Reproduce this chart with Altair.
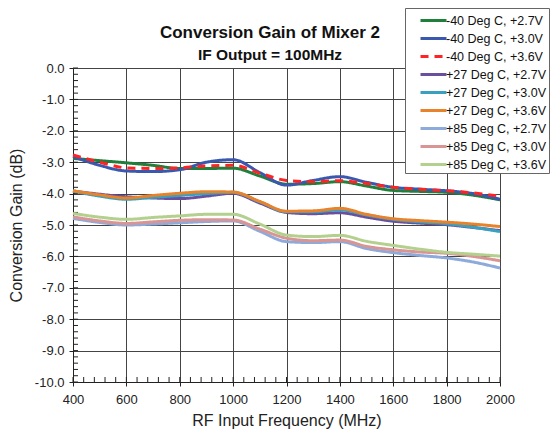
import altair as alt
import pandas as pd

freq = [400, 500, 600, 700, 800, 900, 1000, 1100, 1200, 1300, 1400, 1500, 1600, 1700, 1800, 1900, 2000]

series_names = [
    "-40 Deg C, +2.7V", "-40 Deg C, +3.0V", "-40 Deg C, +3.6V",
    "+27 Deg C, +2.7V", "+27 Deg C, +3.0V", "+27 Deg C, +3.6V",
    "+85 Deg C, +2.7V", "+85 Deg C, +3.0V", "+85 Deg C, +3.6V",
]

m40_27 = [-2.88, -2.95, -3.02, -3.10, -3.20, -3.20, -3.19, -3.44, -3.70, -3.68, -3.62, -3.76, -3.90, -3.93, -3.96, -4.05, -4.20]
m40_30 = [-2.82, -3.10, -3.28, -3.30, -3.24, -3.00, -2.92, -3.33, -3.73, -3.58, -3.46, -3.64, -3.80, -3.86, -3.91, -4.00, -4.18]
m40_36 = [-2.77, -3.00, -3.18, -3.20, -3.18, -3.12, -3.10, -3.35, -3.58, -3.62, -3.59, -3.68, -3.80, -3.86, -3.91, -3.98, -4.08]
p27_27 = [-3.92, -4.02, -4.10, -4.14, -4.16, -4.08, -3.99, -4.30, -4.60, -4.64, -4.61, -4.75, -4.88, -4.94, -4.99, -5.08, -5.18]
p27_30 = [-3.92, -4.08, -4.18, -4.12, -4.06, -4.00, -3.96, -4.26, -4.58, -4.58, -4.52, -4.68, -4.82, -4.90, -4.96, -5.07, -5.21]
p27_36 = [-3.91, -4.04, -4.14, -4.06, -3.99, -3.94, -3.95, -4.25, -4.56, -4.55, -4.47, -4.66, -4.80, -4.86, -4.91, -4.97, -5.05]
p85_27 = [-4.79, -4.92, -5.00, -4.97, -4.93, -4.89, -4.87, -5.20, -5.53, -5.56, -5.53, -5.75, -5.88, -5.97, -6.05, -6.18, -6.37]
p85_30 = [-4.74, -4.87, -4.95, -4.90, -4.85, -4.83, -4.84, -5.13, -5.42, -5.50, -5.48, -5.68, -5.79, -5.86, -5.90, -6.00, -6.14]
p85_36 = [-4.63, -4.75, -4.82, -4.76, -4.71, -4.66, -4.66, -4.97, -5.32, -5.37, -5.33, -5.52, -5.65, -5.77, -5.87, -5.93, -5.99]

all_series = [m40_27, m40_30, m40_36, p27_27, p27_30, p27_36, p85_27, p85_30, p85_36]

colors = ["#1f7f3b", "#3a58ae", "#ff2424", "#6a4f9e", "#3aa0bf", "#e8832c", "#8eaadb", "#d99594", "#b3d08e"]
dashes = [[1, 0], [1, 0], [8, 6], [1, 0], [1, 0], [1, 0], [1, 0], [1, 0], [1, 0]]

x_major = [400, 600, 800, 1000, 1200, 1400, 1600, 1800, 2000]
y_major = [0, -1, -2, -3, -4, -5, -6, -7, -8, -9, -10]
x_minor = [400 + 40 * i for i in range(41)]
y_minor = [round(-10 + 0.2 * i, 1) for i in range(51)]

rows = []
for order, (name, vals) in enumerate(zip(series_names, all_series)):
    for f, v in zip(freq, vals):
        rows.append({"freq": f, "gain": v, "series": name, "k": order})
df = pd.DataFrame(rows)

FONT = "Liberation Sans"
W, H = 427, 314

x_scale = alt.Scale(domain=[400, 2000], nice=False, zero=False)
y_scale = alt.Scale(domain=[-10, 0], nice=False, zero=False)

x_axis = alt.Axis(
    values=x_major, title="RF Input Frequency (MHz)", format="d",
    grid=True, gridColor="#444444", gridWidth=1,
    tickSize=4, tickColor="#222222", domainColor="#222222",
    labelFont=FONT, labelFontSize=13, labelColor="#222222", labelPadding=7,
    titleFont=FONT, titleFontSize=16, titleFontWeight="normal", titleColor="#222222", titlePadding=6,
    labelFlush=False)
y_axis = alt.Axis(
    values=y_major, title="Conversion Gain (dB)",
    labelExpr="datum.value == 0 ? '0.0' : '-' + format(abs(datum.value), '.1f')",
    grid=True, gridColor="#444444", gridWidth=1,
    tickSize=4, tickColor="#222222", domainColor="#222222",
    labelFont=FONT, labelFontSize=13, labelColor="#222222", labelPadding=5,
    titleFont=FONT, titleFontSize=16, titleFontWeight="normal", titleColor="#222222", titlePadding=10,
    labelFlush=False)

legend = alt.Legend(
    title=None, orient="none", legendX=332, legendY=-60,
    fillColor="white", strokeColor="#666666", padding=2,
    symbolType="M-1.5,0H1.5", symbolSize=300, symbolStrokeWidth=3,
    symbolOffset=16, labelOffset=2,
    labelFont=FONT, labelFontSize=12.5, labelColor="#111111",
    rowPadding=1, labelLimit=200,
)

lines = alt.Chart(df).mark_line(strokeWidth=3, interpolate="monotone").encode(
    x=alt.X("freq:Q", scale=x_scale, axis=x_axis),
    y=alt.Y("gain:Q", scale=y_scale, axis=y_axis),
    color=alt.Color("series:N", scale=alt.Scale(domain=series_names, range=colors), legend=legend),
    strokeDash=alt.StrokeDash("series:N", scale=alt.Scale(domain=series_names, range=dashes), legend=legend),
    detail="k:O",
)

y_ticks = alt.Chart(pd.DataFrame({"v": y_minor})).mark_rule(color="#222222", strokeWidth=1).encode(
    y=alt.Y("v:Q", scale=y_scale, axis=y_axis), x=alt.value(0), x2=alt.value(5))
x_ticks = alt.Chart(pd.DataFrame({"v": x_minor})).mark_rule(color="#222222", strokeWidth=1).encode(
    x=alt.X("v:Q", scale=x_scale, axis=x_axis), y=alt.value(H), y2=alt.value(H - 5))

chart = alt.layer(y_ticks, x_ticks, lines).properties(
    width=W, height=H,
    autosize=alt.AutoSizeParams(type="none"),
    padding={"left": 65, "top": 60, "right": 51, "bottom": 52},
    title=alt.Title(
        "Conversion Gain of Mixer 2", subtitle="IF Output = 100MHz",
        font=FONT, subtitleFont=FONT, fontSize=17, subtitleFontSize=15.5,
        fontWeight="bold", subtitleFontWeight="bold", color="#111111", subtitleColor="#111111",
        anchor="middle", frame="group", dx=-16.5, offset=-57, subtitlePadding=6,
    ),
).configure_view(stroke=None).configure(background="white")

chart.save("out.html", embed_options={"renderer": "svg", "actions": False})
